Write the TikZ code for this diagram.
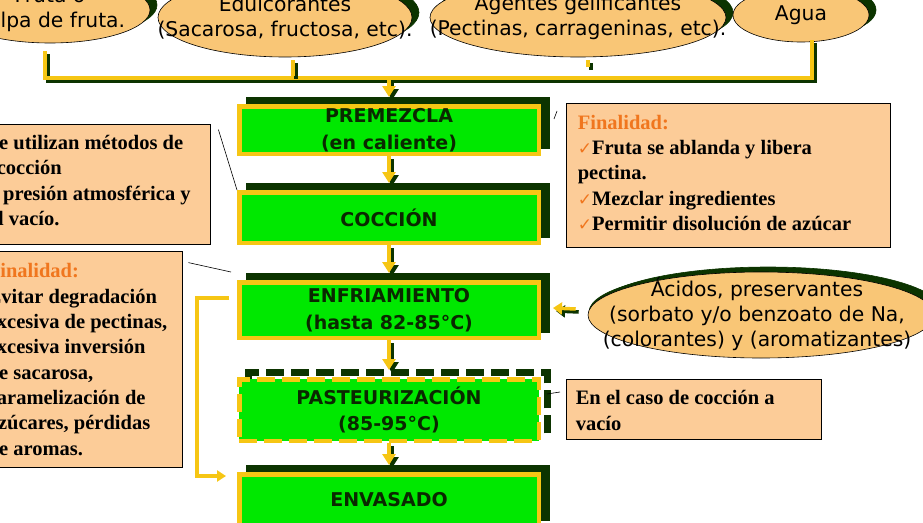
\documentclass[tikz,border=0pt]{standalone}
\usepackage{fontspec}
\setmainfont{Liberation Serif}
\newfontfamily\djv{DejaVu Sans}
\usetikzlibrary{shapes.geometric,arrows.meta,calc}
\definecolor{grn}{RGB}{0,232,0}
\definecolor{yel}{RGB}{246,198,20}
\definecolor{dkg}{RGB}{12,52,0}
\definecolor{ellc}{RGB}{249,198,118}
\definecolor{peach}{RGB}{252,204,152}
\definecolor{orng}{RGB}{240,118,30}
\definecolor{txtg}{RGB}{10,40,0}
\newcommand\ckm{{\djv\color{orng}\fontsize{17}{17}\selectfont ✓}}
\begin{document}
\begin{tikzpicture}[x=1pt,y=-1pt,
  ell/.style={ellipse, draw=black, line width=0.6pt, fill=ellc, inner sep=0pt,
    preaction={fill=dkg, draw=dkg, transform canvas={shift={(7pt,5pt)}}}},
  etext/.style={font=\djv\fontsize{20.3}{25}\selectfont, align=center, inner sep=0pt, text=black},
  gbase/.style={rectangle, draw=yel, line width=4.5pt, fill=grn, minimum width=299.5, inner sep=0pt,
    font=\djv\bfseries\fontsize{19}{26.5}\selectfont, text=txtg, align=center},
  gbox/.style={gbase, preaction={draw=dkg, fill=dkg, line width=4.5pt, transform canvas={shift={(9pt,7pt)}}}},
  gdash/.style={gbase, dash pattern=on 18pt off 7pt,
    preaction={draw=dkg, line width=7pt, dash pattern=on 18pt off 7pt, transform canvas={shift={(9pt,7pt)}}}},
  conn/.style={draw=yel, line width=3.5pt, preaction={draw=dkg, line width=3.5pt, transform canvas={shift={(3pt,-3pt)}}}},
  tip/.style={-{Triangle[width=13pt,length=11pt]}},
  pbox/.style={rectangle, draw=black, line width=0.8pt, fill=peach, inner sep=0pt},
  ptext/.style={font=\bfseries\fontsize{20.5}{25.3}\selectfont, align=left, inner sep=0pt, anchor=west, text=black},
  thinline/.style={draw=black, line width=0.6pt}
]
\useasboundingbox (0,0) rectangle (923,522);
\clip (0,0) rectangle (923,522);

% top ellipses
\node[ell, minimum width=200, minimum height=66] (e1) at (50,10) {};
\node[etext] (e1t) at (e1) {Fruta o\\pulpa de fruta.};
\node[ell, minimum width=254, minimum height=79] (e2) at (285,17.5) {};
\node[etext] (e2t) at (e2) {Edulcorantes\\(Sacarosa, fructosa, etc).};
\node[ell, minimum width=296, minimum height=79] (e3) at (578,17.5) {};
\node[etext] (e3t) at (e3) {Agentes gelificantes\\(Pectinas, carrageninas, etc).};
\node[ell, minimum width=136, minimum height=54] (e4) at (801,15) {};
\node[etext] (e4t) at (e4) {Agua};

% bus
\coordinate (t1) at (45,51);
\coordinate (b1) at (45,78);
\coordinate (t4) at (812,40);
\coordinate (b4) at (812,78);
\coordinate (t2) at (293,60);
\coordinate (s2) at (293,76);
\coordinate (t3) at (588,60);
\coordinate (s3) at (588,67);
\coordinate (b0) at (389,78);
\draw[conn] (t1) -- (b1) -- (b4) -- (t4);
\draw[conn] (t2) -- (s2);
\draw[conn] (t3) -- (s3);

% process boxes
\node[gbox, minimum height=47.5] (prem) at (389,130) {PREMEZCLA\\(en caliente)};
\node[gbox, minimum height=50.5] (cocc) at (389,217.5) {COCCIÓN};
\node[gbox, minimum height=55.5] (enf) at (389,310) {ENFRIAMIENTO\\(hasta 82-85°C)};
\node[gdash, minimum height=61.5] (past) at (389,410) {PASTEURIZACIÓN\\(85-95°C)};
\node[gbox, minimum height=51.5] (env) at (389,500) {ENVASADO};

\draw[conn,tip] (b0) -- ($(prem.north)+(0,-7)$);
\draw[conn,tip] (prem.south) -- ($(cocc.north)+(0,-7)$);
\draw[conn,tip] (cocc.south) -- ($(enf.north)+(0,-7)$);
\draw[conn,tip] (enf.south) -- ($(past.north)+(0,-7)$);
\draw[conn,tip] (past.south) -- ($(env.north)+(0,-7)$);

% feedback loop
\coordinate (fb1) at (197,298);
\coordinate (fb2) at (197,476);
\draw[draw=yel, line width=3.5pt, -{Triangle[width=11pt,length=9pt]}]
  ($(enf.west)+(-8,-12)$) -- (fb1) -- (fb2) -- ($(env.west)+(-11,-24)$);

% right ellipse
\node[ell, minimum width=346, minimum height=86, preaction={fill=dkg, draw=dkg, transform canvas={shift={(1pt,3pt)}}}] (ac) at (761,315) {};
\node[etext] (act) at (757,314) {Ácidos, preservantes\\(sorbato y/o benzoato de Na,\\(colorantes) y (aromatizantes)};
\draw[conn, -{Triangle[width=12pt,length=9pt]}] ($(ac.west)+(-12,-6)$) -- ($(enf.east)+(12,-2)$);

% peach boxes
\node[pbox, minimum width=225, minimum height=120] (ba) at (97.5,184) {};
\node[ptext] (ta) at ($(ba.west)+(3,-3.5)$) {Se utilizan métodos de\\\hspace*{9pt}cocción\\a presión atmosférica y\\al vacío.};
\node[pbox, minimum width=197, minimum height=216] (bb) at (83.5,359) {};
\node[ptext] (tb) at ($(bb.west)+(3,0.5)$) {{\color{orng}Finalidad:}\\Evitar degradación\\excesiva de pectinas,\\excesiva inversión\\de sacarosa,\\caramelización de\\azúcares, pérdidas\\de aromas.};
\node[pbox, minimum width=324, minimum height=144] (bc) at (728,175) {};
\node[ptext] (tc) at ($(bc.west)+(12,-2)$) {{\color{orng}Finalidad:}\\\ckm Fruta se ablanda y libera\\pectina.\\\ckm Mezclar ingredientes\\\ckm Permitir disolución de azúcar};
\node[pbox, minimum width=255, minimum height=60] (bd) at (693.5,409) {};
\node[ptext] (td) at ($(bd.west)+(10,1.5)$) {En el caso de cocción a\\vacío};

% thin callout lines
\draw[thinline] ($(ba.north east)+(8,6)$) -- (cocc.north west);
\draw[thinline] ($(bb.north east)+(6,12)$) -- ($(enf.north west)+(-6,-8)$);
\draw[thinline] ($(prem.north east)+(13,15)$) -- ($(prem.north east)+(16,7)$);
\draw[thinline] ($(past.east)+(6,-16)$) -- ($(past.east)+(19,-18)$);
\end{tikzpicture}
\end{document}
